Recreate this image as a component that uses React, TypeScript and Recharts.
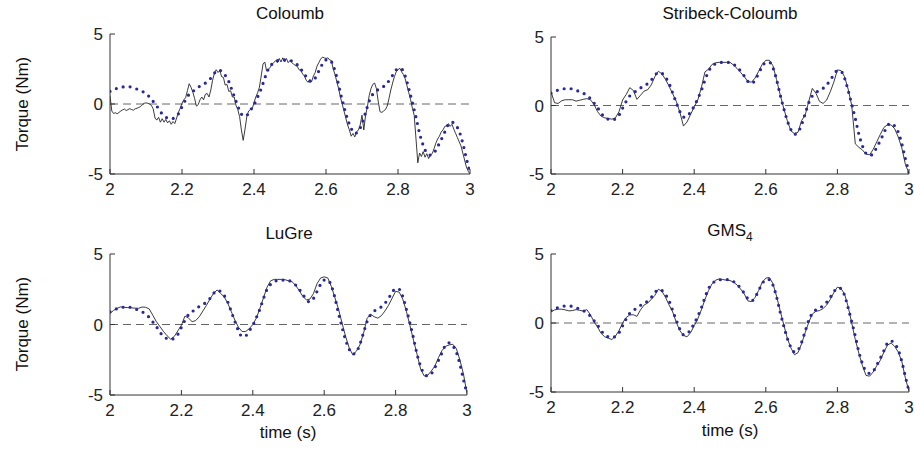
import React from 'react';
import { LineChart, Line, XAxis, YAxis, ReferenceLine } from 'recharts';

// time grids
const T_COARSE = [
  2.00, 2.01, 2.02, 2.03, 2.04, 2.05, 2.06, 2.07, 2.08, 2.09,
  2.10, 2.11, 2.12, 2.13, 2.14, 2.15, 2.16, 2.17, 2.18, 2.19,
  2.20, 2.21, 2.22, 2.23, 2.24, 2.25, 2.26, 2.27, 2.28, 2.29,
  2.30, 2.31, 2.32, 2.33, 2.34, 2.35, 2.36, 2.37, 2.38, 2.39,
  2.40, 2.41, 2.42, 2.43, 2.44, 2.45, 2.46, 2.47, 2.48, 2.49,
  2.50, 2.51, 2.52, 2.53, 2.54, 2.55, 2.56, 2.57, 2.58, 2.59,
  2.60, 2.61, 2.62, 2.63, 2.64, 2.65, 2.66, 2.67, 2.68, 2.69,
  2.70, 2.71, 2.72, 2.73, 2.74, 2.75, 2.76, 2.77, 2.78, 2.79,
  2.80, 2.81, 2.82, 2.83, 2.84, 2.85, 2.86, 2.87, 2.88, 2.89,
  2.90, 2.91, 2.92, 2.93, 2.94, 2.95, 2.96, 2.97, 2.98, 2.99,
  3.00,
];

const T_FINE = [
  2.000, 2.005, 2.010, 2.015, 2.020, 2.025, 2.030, 2.035, 2.040, 2.045,
  2.050, 2.055, 2.060, 2.065, 2.070, 2.075, 2.080, 2.085, 2.090, 2.095,
  2.100, 2.105, 2.110, 2.115, 2.120, 2.125, 2.130, 2.135, 2.140, 2.145,
  2.150, 2.155, 2.160, 2.165, 2.170, 2.175, 2.180, 2.185, 2.190, 2.195,
  2.200, 2.205, 2.210, 2.215, 2.220, 2.225, 2.230, 2.235, 2.240, 2.245,
  2.250, 2.255, 2.260, 2.265, 2.270, 2.275, 2.280, 2.285, 2.290, 2.295,
  2.300, 2.305, 2.310, 2.315, 2.320, 2.325, 2.330, 2.335, 2.340, 2.345,
  2.350, 2.355, 2.360, 2.365, 2.370, 2.375, 2.380, 2.385, 2.390, 2.395,
  2.400, 2.405, 2.410, 2.415, 2.420, 2.425, 2.430, 2.435, 2.440, 2.445,
  2.450, 2.455, 2.460, 2.465, 2.470, 2.475, 2.480, 2.485, 2.490, 2.495,
  2.500, 2.505, 2.510, 2.515, 2.520, 2.525, 2.530, 2.535, 2.540, 2.545,
  2.550, 2.555, 2.560, 2.565, 2.570, 2.575, 2.580, 2.585, 2.590, 2.595,
  2.600, 2.605, 2.610, 2.615, 2.620, 2.625, 2.630, 2.635, 2.640, 2.645,
  2.650, 2.655, 2.660, 2.665, 2.670, 2.675, 2.680, 2.685, 2.690, 2.695,
  2.700, 2.705, 2.710, 2.715, 2.720, 2.725, 2.730, 2.735, 2.740, 2.745,
  2.750, 2.755, 2.760, 2.765, 2.770, 2.775, 2.780, 2.785, 2.790, 2.795,
  2.800, 2.805, 2.810, 2.815, 2.820, 2.825, 2.830, 2.835, 2.840, 2.845,
  2.850, 2.855, 2.860, 2.865, 2.870, 2.875, 2.880, 2.885, 2.890, 2.895,
  2.900, 2.905, 2.910, 2.915, 2.920, 2.925, 2.930, 2.935, 2.940, 2.945,
  2.950, 2.955, 2.960, 2.965, 2.970, 2.975, 2.980, 2.985, 2.990, 2.995,
  3.000,
];

// measured torque (blue dotted), same in every panel
const MEASURED = [
  0.9, 1.05, 1.12, 1.2, 1.23, 1.24, 1.2, 1.12, 1.0, 0.9,
  0.72, 0.5, 0.18, -0.15, -0.55, -0.85, -1.0, -1.05, -0.98, -0.7,
  -0.2, 0.3, 0.7, 0.9, 1.1, 1.28, 1.4, 1.6, 1.85, 2.2,
  2.42, 2.35, 2.05, 1.6, 0.9, 0.2, -0.45, -0.85, -0.8, -0.45,
  -0.05, 0.5, 1.1, 1.85, 2.5, 2.85, 3.05, 3.12, 3.15, 3.15,
  3.12, 3.0, 2.8, 2.5, 2.15, 1.75, 1.6, 1.85, 2.35, 2.85,
  3.15, 3.15, 2.75, 1.9, 0.8, -0.2, -1.1, -1.75, -2.1, -1.95,
  -1.4, -0.6, 0.2, 0.7, 0.95, 1.1, 1.25, 1.5, 1.85, 2.25,
  2.55, 2.5, 2.0, 1.1, 0.1, -0.95, -2.1, -2.95, -3.5, -3.65,
  -3.5, -3.05, -2.55, -2.0, -1.45, -1.3, -1.5, -1.95, -2.8, -3.9,
  -4.9,
];

// model outputs (black solid)
const COULOMB = [
  0.6, -0.5, -0.68, -0.62, -0.7, -0.6, -0.5, -0.42, -0.36, -0.47,
  -0.4, -0.33, -0.4, -0.44, -0.34, -0.3, -0.25, -0.18, -0.05, 0.05,
  0.08, 0.05, 0.0, -0.1, -0.35, -1.0, -1.15, -0.95, -1.3, -1.05,
  -1.3, -1.1, -1.35, -1.2, -1.45, -1.25, -1.4, -1.0, -0.6, -0.3,
  0.05, 0.3, 0.45, 0.95, 1.45, 1.2, 0.85, 0.4, -0.15, -0.05,
  0.3, 0.5, 0.3, 0.7, 0.75, 0.5, 1.0, 1.7, 2.2, 2.45,
  2.25, 2.4, 1.95, 1.9, 1.35, 1.4, 0.9, 0.95, 0.5, 0.5,
  -0.1, -0.4, -0.9, -1.85, -2.6, -1.8, -0.9, -0.5, -0.4, -0.35,
  0.1, 0.5, 0.8, 1.2, 2.0, 2.85, 3.0, 2.35, 2.5, 2.6,
  2.85, 2.95, 3.1, 2.95, 3.25, 3.0, 3.3, 3.0, 3.25, 2.95,
  3.1, 2.95, 2.85, 2.75, 2.7, 2.45, 2.4, 2.15, 2.0, 1.7,
  1.55, 1.75, 1.6, 2.0, 2.25, 2.7, 2.95, 3.2, 3.35, 3.3,
  3.25, 3.3, 3.15, 3.1, 2.5, 2.1, 1.6, 1.1, 0.5, 0.0,
  -0.5, -1.0, -1.5, -1.85, -2.3, -2.1, -2.35, -2.0, -1.85, -1.5,
  -0.8, -1.85, -0.8, -0.2, 0.6, 1.1, 1.4, 1.5, 1.1, 0.2,
  -0.55, -0.6, -0.5, -0.4, -0.15, 0.4, 1.0, 1.5, 1.95, 2.3,
  2.45, 2.55, 2.3, 2.1, 1.8, 1.3, 0.8, 0.3, -0.3, -0.8,
  -2.5, -4.2, -3.5, -3.75, -3.4, -3.8, -3.55, -3.9, -3.65, -3.55,
  -3.2, -2.8, -2.5, -2.3, -2.0, -1.85, -1.6, -1.55, -1.4, -1.6,
  -1.45, -1.8, -2.1, -2.4, -2.7, -3.0, -3.5, -4.0, -4.5, -4.8,
  -5.0,
];

const STRIBECK = [
  1.0, 0.2, 0.15, 0.35, 0.42, 0.42, 0.42, 0.32, 0.38, 0.45,
  0.5, 0.42, 0.1, -0.45, -0.78, -0.9, -0.95, -1.0, -0.9, -0.45,
  0.4, 0.8, 1.3, 1.1, 0.45, 0.75, 1.05, 1.15, 1.5, 2.1,
  2.5, 2.3, 1.9, 1.4, 0.85, 0.3, -0.5, -1.5, -1.2, -0.65,
  -0.1, 0.4, 1.3, 2.45, 2.65, 3.0, 3.12, 3.15, 3.15, 3.15,
  3.15, 2.95, 2.7, 2.4, 2.1, 1.75, 1.7, 2.0, 2.5, 3.0,
  3.3, 3.3, 2.9, 1.9, 0.8, -0.2, -1.1, -1.85, -2.05, -1.95,
  -1.1, -0.7, 0.3, 1.25, 0.9, 0.3, 0.15, 0.4, 1.0, 1.7,
  2.6, 2.55, 2.1, 1.2, 0.0, -2.8, -3.05, -3.25, -3.55, -3.6,
  -3.2, -2.65, -2.1, -1.6, -1.4, -1.42, -1.7, -2.3, -3.1, -4.3,
  -4.95,
];

const LUGRE = [
  0.78, 1.0, 1.15, 1.25, 1.22, 1.2, 1.18, 1.16, 1.15, 1.24,
  1.22, 1.1, 0.65, 0.2, -0.15, -0.5, -0.8, -1.04, -0.85, -0.45,
  -0.05, 0.6, 0.45, 0.2, 0.28, 0.55, 0.95, 1.35, 1.8, 2.2,
  2.45, 2.2, 1.95, 1.5, 0.9, 0.3, -0.2, -0.5, -0.5, -0.3,
  0.0, 0.45, 1.15, 1.9, 2.65, 3.1, 3.2, 3.2, 3.2, 3.18,
  3.1, 3.03, 2.78, 2.4, 2.0, 1.75, 1.8, 2.2, 2.9, 3.3,
  3.38, 3.3, 2.7, 1.9, 1.1, 0.1, -0.85, -1.65, -2.15, -1.9,
  -1.45, -0.65, 0.43, 0.73, 0.55, 0.45, 0.62, 0.95, 1.35, 1.85,
  2.35, 2.3, 1.8, 0.95, -0.05, -1.1, -2.1, -3.15, -3.65, -3.6,
  -3.3, -2.95, -2.35, -1.85, -1.55, -1.45, -1.4, -1.7, -2.5, -3.5,
  -4.9,
];

const GMS = [
  0.8, 0.95, 1.0, 1.0, 0.95, 0.88, 0.9, 0.97, 0.92, 0.86,
  0.97, 0.6, 0.1, -0.3, -0.75, -1.0, -1.1, -1.2, -0.95, -0.55,
  0.0, 0.4, 0.58, 0.6, 0.48, 0.95, 1.3, 1.45, 1.7, 2.0,
  2.45, 2.3, 1.85, 1.3, 0.8, 0.05, -0.55, -0.9, -1.0, -0.7,
  -0.2, 0.3, 0.95, 1.7, 2.35, 2.85, 3.1, 3.2, 3.15, 3.1,
  3.08, 2.95, 2.75, 2.45, 2.1, 1.6, 1.55, 1.85, 2.35, 2.95,
  3.25, 3.3, 2.85, 1.95, 0.9, -0.1, -1.1, -1.8, -2.3, -2.15,
  -1.5, -0.7, 0.05, 0.65, 0.85, 0.9, 1.05, 1.3, 1.7, 2.2,
  2.6, 2.5, 2.1, 1.2, 0.0, -1.2, -2.2, -3.1, -3.8, -3.85,
  -3.55, -3.1, -2.7, -2.1, -1.6, -1.45, -1.7, -2.1, -2.8, -4.0,
  -4.95,
];

const X_TICKS = [2, 2.2, 2.4, 2.6, 2.8, 3];
const Y_TICKS = [-5, 0, 5];

const FONT = '"Liberation Sans Narrow", "Liberation Sans", Arial, sans-serif';
const FS = 17;
const AXIS = '#333333';
const BLUE = '#27279e';

const toRows = (ts: number[], vs: number[]) => ts.map((t, i) => ({ t, v: vs[i] }));

const measuredRows = toRows(T_COARSE, MEASURED);

type PanelProps = {
  left: number;
  top: number;
  w: number;
  h: number;
  model: { t: number; v: number }[];
};

const PAD_L = 60;
const PAD_T = 10;
const PAD_R = 10;
const PAD_B = 40;

function Panel({ left, top, w, h, model }: PanelProps) {
  const tickStyle = { fill: '#222', fontSize: FS, fontFamily: FONT };
  return (
    <div style={{ position: 'absolute', left: left - PAD_L, top: top - PAD_T }}>
      <LineChart
        width={w + PAD_L + PAD_R}
        height={h + PAD_T + PAD_B}
        margin={{ top: PAD_T, right: PAD_R, bottom: 0, left: 0 }}
      >
        <XAxis
          xAxisId="b"
          dataKey="t"
          type="number"
          domain={[2, 3]}
          ticks={X_TICKS}
          interval={0}
          allowDataOverflow
          height={PAD_B}
          stroke={AXIS}
          tickSize={-5}
          tickMargin={14}
          tick={tickStyle}
        />
        <XAxis
          xAxisId="t"
          orientation="top"
          dataKey="t"
          type="number"
          domain={[2, 3]}
          ticks={X_TICKS}
          interval={0}
          allowDataOverflow
          height={0}
          stroke={AXIS}
          tickSize={-5}
          tick={false}
        />
        <YAxis
          yAxisId="l"
          type="number"
          domain={[-5, 5]}
          ticks={Y_TICKS}
          interval={0}
          allowDataOverflow
          width={PAD_L}
          stroke={AXIS}
          tickSize={-5}
          tickMargin={12}
          tick={tickStyle}
        />
        <YAxis
          yAxisId="r"
          orientation="right"
          type="number"
          domain={[-5, 5]}
          ticks={Y_TICKS}
          interval={0}
          allowDataOverflow
          width={0}
          stroke={AXIS}
          tickSize={-5}
          tick={false}
        />
        <ReferenceLine
          xAxisId="b"
          yAxisId="l"
          y={0}
          stroke="#666"
          strokeWidth={1}
          strokeDasharray="8 5"
        />
        <Line
          xAxisId="b"
          yAxisId="l"
          data={model}
          dataKey="v"
          type="linear"
          stroke="#262626"
          strokeWidth={0.9}
          dot={false}
          activeDot={false}
          isAnimationActive={false}
        />
        <Line
          xAxisId="b"
          yAxisId="l"
          data={measuredRows}
          dataKey="v"
          type="monotone"
          stroke={BLUE}
          strokeWidth={3.2}
          strokeLinecap="round"
          strokeDasharray="0 7"
          dot={false}
          activeDot={false}
          isAnimationActive={false}
        />
      </LineChart>
    </div>
  );
}

const textStyle: React.CSSProperties = {
  position: 'absolute',
  fontFamily: FONT,
  fontSize: FS,
  color: '#111',
  whiteSpace: 'nowrap',
  transform: 'translate(-50%, -50%)',
  lineHeight: 1,
};

export default function App() {
  return (
    <div
      style={{
        position: 'fixed',
        left: 0,
        top: 0,
        width: 914,
        height: 450,
        background: '#fff',
        overflow: 'hidden',
      }}
    >
      <Panel left={110} top={34} w={360} h={140} model={toRows(T_FINE, COULOMB)} />
      <Panel left={551} top={37} w={358} h={137} model={toRows(T_COARSE, STRIBECK)} />
      <Panel left={110} top={254} w={357} h={141} model={toRows(T_COARSE, LUGRE)} />
      <Panel left={551} top={254} w={358} h={138} model={toRows(T_COARSE, GMS)} />

      <div style={{ ...textStyle, left: 290, top: 13 }}>Coloumb</div>
      <div style={{ ...textStyle, left: 730, top: 13 }}>Stribeck-Coloumb</div>
      <div style={{ ...textStyle, left: 289, top: 233 }}>LuGre</div>
      <div style={{ ...textStyle, left: 730, top: 232 }}>
        GMS<sub style={{ fontSize: 12, verticalAlign: -5 }}>4</sub>
      </div>

      <div style={{ ...textStyle, left: 22, top: 104, transform: 'translate(-50%, -50%) rotate(-90deg)' }}>
        Torque (Nm)
      </div>
      <div style={{ ...textStyle, left: 22, top: 324, transform: 'translate(-50%, -50%) rotate(-90deg)' }}>
        Torque (Nm)
      </div>

      <div style={{ ...textStyle, left: 288, top: 432 }}>time (s)</div>
      <div style={{ ...textStyle, left: 730, top: 430 }}>time (s)</div>
    </div>
  );
}
